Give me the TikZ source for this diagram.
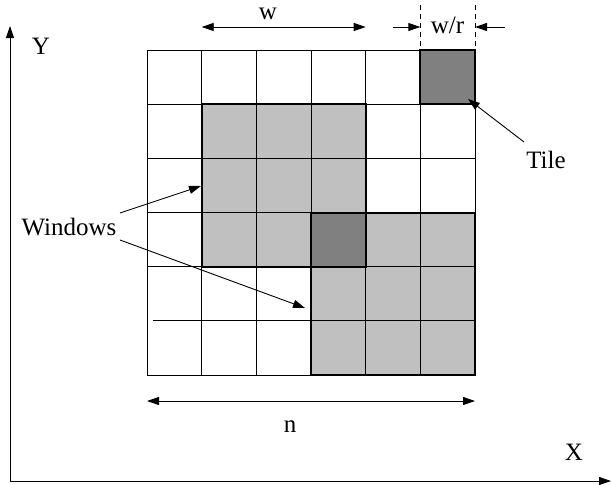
\documentclass[tikz,border=0pt]{standalone}
\usepackage{fontspec}
\setmainfont{Liberation Serif}
\usetikzlibrary{arrows.meta}
\begin{document}
\begin{tikzpicture}[x=1pt,y=-1pt,
  lbl/.style={font=\fontsize{25}{28}\selectfont, inner sep=0pt},
  gridln/.style={line width=0.9pt},
  winbox/.style={line width=2pt},
  tip/.style={-{Triangle[length=12pt,width=8pt]}, line width=0.9pt},
  dtip/.style={{Triangle[length=12pt,width=8pt]}-{Triangle[length=12pt,width=8pt]}, line width=0.9pt},
  dashln/.style={dash pattern=on 5pt off 4pt, line width=0.8pt},
  lightfill/.style={fill={rgb,255:red,192;green,192;blue,192}},
  darkfill/.style={fill={rgb,255:red,128;green,128;blue,128}}]
\useasboundingbox (0,0) rectangle (611,485);
% grid coordinates
\def\xa{147}\def\xb{201.7}\def\xc{256.3}\def\xd{311}\def\xe{365.7}\def\xf{420.3}\def\xg{475}
\def\ya{50}\def\yb{104.2}\def\yc{158.3}\def\yd{212.5}\def\ye{266.7}\def\yf{320.8}\def\yg{375}
% fills
\fill[lightfill] (\xb,\yb) rectangle (\xe,\ye);
\fill[lightfill] (\xd,\yd) rectangle (\xg,\yg);
\fill[darkfill] (\xd,\yd) rectangle (\xe,\ye);
\fill[darkfill] (\xf,\ya) rectangle (\xg,\yb);
% grid
\foreach \x in {\xa,\xb,\xc,\xd,\xe,\xf,\xg} \draw[gridln] (\x,\ya) -- (\x,\yg);
\foreach \y in {\ya,\yb,\yc,\yd,\ye,\yg} \draw[gridln] (\xa,\y) -- (\xg,\y);
\draw[gridln] (153,\yf) -- (\xg,\yf);
% thick borders
\draw[winbox] (\xb,\yb) rectangle (\xe,\ye);
\draw[winbox] (\xd,\yd) rectangle (\xg,\yg);
\draw[winbox] (\xf,\ya) rectangle (\xg,\yb);
% axes
\coordinate (origin) at (10,481);
\coordinate (ytop) at (10,26);
\coordinate (xend) at (611,481);
\draw[tip] (origin) -- (ytop);
\draw[tip] (origin) -- (xend);
\node[lbl] (ylab) at (41,46) {Y};
\node[lbl] (xlab) at (574,452) {X};
% w
\coordinate (wl) at (\xb,27);
\coordinate (wr) at (\xe,27);
\draw[dtip] (wl) -- (wr);
\node[lbl] (wlab) at (268,14) {w};
% w/r
\draw[dashln] (\xf,5) -- (\xf,\ya);
\draw[dashln] (\xg,5) -- (\xg,\ya);
\coordinate (wrl0) at (393,27);
\coordinate (wrl1) at (\xf,27);
\coordinate (wrr0) at (505,27);
\coordinate (wrr1) at (\xg,27);
\draw[tip] (wrl0) -- (wrl1);
\draw[tip] (wrr0) -- (wrr1);
\node[lbl] (wrlab) at (447.5,25) {w/r};
% n
\coordinate (nl) at (\xa,401);
\coordinate (nr) at (\xg,401);
\draw[dtip] (nl) -- (nr);
\node[lbl] (nlab) at (290,427) {n};
% Tile
\node[lbl] (tile) at (546,160) {Tile};
\coordinate (tiletip) at (468,99);
\draw[tip] (524,142) -- (tiletip);
% Windows
\node[lbl] (win) at (69,227) {Windows};
\coordinate (w1tip) at (201,186);
\coordinate (w2tip) at (305,308);
\draw[tip] (120,213) -- (w1tip);
\draw[tip] (120,240) -- (w2tip);
\end{tikzpicture}
\end{document}
